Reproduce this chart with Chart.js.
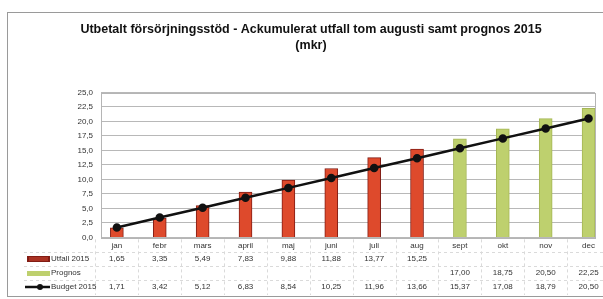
<!DOCTYPE html>
<html>
<head>
<meta charset="utf-8">
<script src="https://cdn.jsdelivr.net/npm/chart.js@4.4.0/dist/chart.umd.min.js"></script>
<style>
  html, body { margin: 0; padding: 0; background: #fff; }
  #wrap { width: 603px; height: 299px; }
</style>
</head>
<body>
<div id="wrap"><canvas id="c"></canvas></div>
<script>
// data (mkr)
const months = ["jan", "febr", "mars", "april", "maj", "juni", "juli", "aug", "sept", "okt", "nov", "dec"];
const utfall = [1.65, 3.35, 5.49, 7.83, 9.88, 11.88, 13.77, 15.25, null, null, null, null];
const prognos = [null, null, null, null, null, null, null, null, 17.00, 18.75, 20.50, 22.25];
const budget = [1.71, 3.42, 5.12, 6.83, 8.54, 10.25, 11.96, 13.66, 15.37, 17.08, 18.79, 20.50];
const yTicks = [0, 2.5, 5, 7.5, 10, 12.5, 15, 17.5, 20, 22.5, 25];

const FONT = "'Liberation Sans', Arial, sans-serif";
const RED = "rgb(222,74,44)";
const RED_EDGE = "rgb(130,28,20)";
const GREEN = "rgb(190,208,110)";

function fmt(v) {
  return v.toFixed(2).replace(".", ",");
}

// linjär x-axel behöver {x, y}
function toPoints(arr) {
  return arr.map((v, i) => ({ x: i, y: v }));
}

// ram runt diagrammet + plottyta + datatabell
const tablePlugin = {
  id: "tablePlugin",
  beforeDraw(chart) {
    const ctx = chart.ctx;
    ctx.save();
    ctx.fillStyle = "#fff";
    ctx.fillRect(0, 0, chart.width, chart.height);
    ctx.strokeStyle = "#9a9a9a";
    ctx.lineWidth = 1;
    ctx.strokeRect(7.5, 12.5, chart.width + 10, 284);
    ctx.restore();
  },
  beforeDatasetsDraw(chart) {
    const ctx = chart.ctx;
    const a = chart.chartArea;
    ctx.save();
    ctx.strokeStyle = "#b5b5b5";
    ctx.lineWidth = 1;
    ctx.strokeRect(Math.round(a.left) + 0.5, Math.round(a.top) + 0.5, Math.round(a.right - a.left), Math.round(a.bottom - a.top));
    ctx.restore();
  },
  afterDatasetsDraw(chart) {
    const ctx = chart.ctx;
    const a = chart.chartArea;
    const x = chart.scales.x;
    const step = x.getPixelForValue(1) - x.getPixelForValue(0);
    ctx.save();

    const rows = [
      { label: "Utfall 2015", values: utfall, y: 259 },
      { label: "Prognos", values: prognos, y: 273 },
      { label: "Budget 2015", values: budget, y: 287 }
    ];

    // tabellens linjer
    ctx.strokeStyle = "#dadada";
    ctx.lineWidth = 1;
    ctx.setLineDash([3, 3]);
    [252, 266, 280].forEach((yy) => {
      ctx.beginPath();
      ctx.moveTo(24, yy + 0.5);
      ctx.lineTo(chart.width, yy + 0.5);
      ctx.stroke();
    });
    for (let i = 0; i <= months.length; i++) {
      const xx = Math.round(x.getPixelForValue(i) - step / 2) + 0.5;
      ctx.beginPath();
      ctx.moveTo(xx, a.bottom + 2);
      ctx.lineTo(xx, 295);
      ctx.stroke();
    }
    ctx.setLineDash([]);

    // förklaringar
    ctx.fillStyle = RED_EDGE;
    ctx.fillRect(27, 256, 23, 6);
    ctx.fillStyle = "rgb(170,50,35)";
    ctx.fillRect(29, 257, 19, 4);
    ctx.fillStyle = GREEN;
    ctx.fillRect(27, 271, 23, 5);
    ctx.strokeStyle = "#111";
    ctx.lineWidth = 2.5;
    ctx.beginPath();
    ctx.moveTo(25, 287);
    ctx.lineTo(50, 287);
    ctx.stroke();
    ctx.fillStyle = "#111";
    ctx.beginPath();
    ctx.arc(40, 287, 3, 0, Math.PI * 2);
    ctx.fill();

    ctx.font = "8px " + FONT;
    ctx.textBaseline = "middle";
    rows.forEach((r) => {
      ctx.fillStyle = "#333";
      ctx.textAlign = "left";
      ctx.fillText(r.label, 51, r.y);
      ctx.textAlign = "center";
      r.values.forEach((v, i) => {
        if (v === null) return;
        ctx.fillText(fmt(v), x.getPixelForValue(i), r.y);
      });
    });
    ctx.restore();
  }
};

new Chart(document.getElementById("c"), {
  type: "bar",
  data: {
    datasets: [
      {
        type: "line",
        label: "Budget 2015",
        data: toPoints(budget),
        borderColor: "#111",
        backgroundColor: "#111",
        borderWidth: 2.5,
        pointRadius: 3,
        pointStyle: "circle",
        tension: 0,
        order: 0
      },
      {
        label: "Utfall 2015",
        data: toPoints(utfall),
        backgroundColor: RED,
        borderColor: RED_EDGE,
        borderWidth: 1,
        barThickness: 13,
        grouped: false,
        order: 1
      },
      {
        label: "Prognos",
        data: toPoints(prognos),
        backgroundColor: GREEN,
        borderColor: "rgb(165,182,85)",
        borderWidth: 1,
        barThickness: 13,
        grouped: false,
        order: 1
      }
    ]
  },
  plugins: [tablePlugin],
  options: {
    responsive: true,
    maintainAspectRatio: false,
    animation: false,
    layout: { padding: { left: 27, right: 8, top: 0, bottom: 44 } },
    plugins: {
      legend: { display: false },
      tooltip: { enabled: false },
      title: {
        display: true,
        text: ["Utbetalt försörjningsstöd - Ackumulerat utfall tom augusti samt prognos 2015", "(mkr)"],
        color: "#111",
        font: { family: FONT, size: 12.5, weight: "bold", lineHeight: 1.3 },
        padding: { top: 21, bottom: 39 }
      }
    },
    scales: {
      x: {
        type: "linear",
        offset: false,
        min: -0.37,
        max: 11.15,
        afterBuildTicks(scale) { scale.ticks = months.map((m, i) => ({ value: i })); },
        grid: { display: false, drawTicks: false },
        border: { display: false },
        ticks: {
          color: "#333",
          font: { family: FONT, size: 8 },
          padding: 4,
          maxRotation: 0,
          autoSkip: false,
          callback: (v) => months[v]
        }
      },
      y: {
        min: 0,
        max: 25,
        afterFit(scale) { scale.width = 74; },
        afterBuildTicks(scale) { scale.ticks = yTicks.map((v) => ({ value: v })); },
        grid: { color: "#b8b8b8", drawTicks: false },
        border: { display: false },
        ticks: {
          color: "#333",
          padding: 8,
          font: { family: FONT, size: 8 },
          callback: (v) => v.toFixed(1).replace(".", ",")
        }
      }
    }
  }
});
</script>
</body>
</html>
